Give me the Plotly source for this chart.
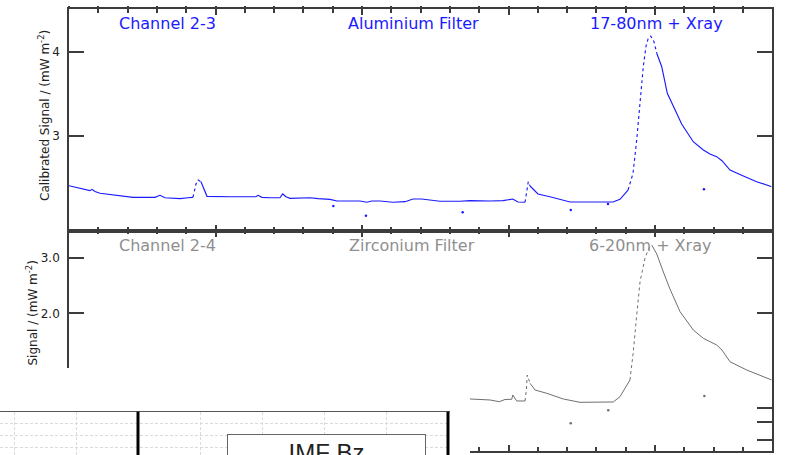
import plotly.graph_objects as go

W, H = 793, 455

# ---------------- Channel 2-3 (Aluminium filter, 17-80 nm + X-ray) ----------------
al_time = [0.000, 0.143, 0.157, 0.177, 0.212, 0.348, 0.437, 0.587, 0.621, 0.655,
           0.724, 0.758, 0.812, 0.846, 0.867, 0.881, 0.901, 0.922, 0.942, 1.099,
           1.276, 1.290, 1.317, 1.372, 1.440, 1.459, 1.481, 1.509, 1.577, 1.645,
           1.700, 1.782, 1.829, 1.918, 1.986, 2.032, 2.068, 2.123, 2.212, 2.294,
           2.348, 2.407, 2.532, 2.669, 2.737, 2.874, 2.962, 3.029, 3.065, 3.113,
           3.124, 3.135, 3.147, 3.181, 3.201, 3.283, 3.372, 3.420, 3.556, 3.713,
           3.761, 3.816, 3.850, 3.875, 3.898, 3.920, 3.939, 3.954, 3.971, 3.993,
           4.012, 4.046, 4.084, 4.148, 4.182, 4.261, 4.330, 4.375, 4.421, 4.457,
           4.512, 4.603, 4.694, 4.797]
al_signal = [2.408, 2.349, 2.365, 2.339, 2.318, 2.286, 2.270, 2.270, 2.294, 2.265,
             2.258, 2.254, 2.265, 2.270, 2.429, 2.476, 2.456, 2.357, 2.282, 2.277,
             2.277, 2.294, 2.270, 2.265, 2.265, 2.310, 2.277, 2.258, 2.262, 2.265,
             2.254, 2.246, 2.226, 2.226, 2.226, 2.211, 2.226, 2.226, 2.211, 2.218,
             2.250, 2.250, 2.223, 2.223, 2.230, 2.226, 2.230, 2.250, 2.214, 2.211,
             2.321, 2.456, 2.405, 2.337, 2.310, 2.277, 2.238, 2.214, 2.214, 2.214,
             2.246, 2.357, 2.556, 2.952, 3.429, 3.825, 4.071, 4.163, 4.190, 4.123,
             3.985, 3.825, 3.508, 3.270, 3.143, 2.932, 2.833, 2.786, 2.754, 2.706,
             2.595, 2.524, 2.456, 2.396]
# index ranges where samples are sparse (fast rises) -> drawn dotted
al_rises = [(13, 16), (49, 52), (61, 70)]
al_spike_time = [1.804, 2.027, 2.687, 3.425, 3.679, 4.334]
al_spike_signal = [2.167, 2.051, 2.092, 2.119, 2.190, 2.365]

# ---------------- Channel 2-4 (Zirconium filter, 6-20 nm + X-ray) ----------------
zr_time = [2.737, 2.874, 2.937, 2.976, 3.022, 3.029, 3.056, 3.113, 3.122, 3.128,
           3.147, 3.181, 3.261, 3.329, 3.374, 3.488, 3.625, 3.715, 3.761, 3.829,
           3.852, 3.875, 3.898, 3.932, 3.959, 3.978, 4.012, 4.057, 4.102, 4.171,
           4.261, 4.330, 4.421, 4.457, 4.512, 4.626, 4.797]
zr_signal = [0.459, 0.441, 0.410, 0.450, 0.453, 0.531, 0.423, 0.423, 0.621, 0.890,
             0.741, 0.621, 0.561, 0.500, 0.459, 0.399, 0.399, 0.405, 0.500, 0.800,
             1.309, 1.969, 2.568, 2.995, 3.174, 3.228, 3.067, 2.743, 2.437, 2.029,
             1.700, 1.550, 1.430, 1.340, 1.129, 0.980, 0.800]
zr_rises = [(7, 10), (19, 25)]
zr_spike_time = [3.425, 3.681, 4.337]
zr_spike_signal = [0.022, 0.256, 0.513]

# axis ticks
top_yticks = [3, 4]
low_yticks = [3.0, 2.0]
low_extra_ticks = [0.3, 0.04, -0.27]

# IMF Bz strip underneath
imf_markers = [3, 8]

BLUE = "#1a1aff"
GREY_LINE = "#6f6f6f"
GREY_TEXT = "#8f8f8f"
AXIS = "#3c3c3c"
FONT = "DejaVu Sans"


def split_segments(t, v, rises):
    """Return solid-line and dotted-line coordinate lists."""
    st, sv, dt, dv = [], [], [], []
    for j in range(len(t)):
        st.append(t[j])
        sv.append(v[j])
        if j < len(t) - 1 and any(a <= j < b for a, b in rises):
            st.append(None)
            sv.append(None)
    for a, b in rises:
        dt += t[a:b + 1] + [None]
        dv += v[a:b + 1] + [None]
    return st, sv, dt, dv


fig = go.Figure()

for (t, v, rises, st_t, st_v, col, xa, ya, w) in [
    (al_time, al_signal, al_rises, al_spike_time, al_spike_signal, BLUE, "x", "y", 1.15),
    (zr_time, zr_signal, zr_rises, zr_spike_time, zr_spike_signal, GREY_LINE, "x2", "y2", 1.0),
]:
    s_t, s_v, d_t, d_v = split_segments(t, v, rises)
    fig.add_trace(go.Scatter(x=s_t, y=s_v, mode="lines", xaxis=xa, yaxis=ya,
                             line=dict(color=col, width=w), connectgaps=False,
                             hoverinfo="skip", showlegend=False))
    fig.add_trace(go.Scatter(x=d_t, y=d_v, mode="lines", xaxis=xa, yaxis=ya,
                             line=dict(color=col, width=w, dash="dot"),
                             connectgaps=False, hoverinfo="skip", showlegend=False))
    fig.add_trace(go.Scatter(x=st_t, y=st_v, mode="markers", xaxis=xa, yaxis=ya,
                             marker=dict(color=col, size=2.5), hoverinfo="skip",
                             showlegend=False))

# blank overlay panel, IMF Bz strip, outer tick row on the top frame,
# and the extra right-hand ticks of the lower panel
fig.add_trace(go.Scatter(x=[None], y=[None], xaxis="x3", yaxis="y3", showlegend=False))
fig.add_trace(go.Scatter(x=[None], y=[None], xaxis="x4", yaxis="y4", showlegend=False))
fig.add_trace(go.Scatter(x=[None], y=[None], xaxis="x5", yaxis="y", showlegend=False))
fig.add_trace(go.Scatter(x=[None], y=[None], xaxis="x2", yaxis="y6", showlegend=False))

px = lambda p: p / W
py = lambda p: 1 - p / H

XR = [0, (771.5 - 69) / 146.5]
top_dom_x = [px(69), px(771.5)]
low_yrange = [3 - (450.7 - 257.7) / 55.6, 3 + (257.7 - 230.7) / 55.6]

common_x = dict(range=XR, showticklabels=False, showgrid=False, zeroline=False,
                ticks="inside", ticklen=6, tickwidth=1.5, tickcolor=AXIS, dtick=1, tick0=0,
                minor=dict(ticks="inside", ticklen=3.5, tickwidth=1.5, tickcolor=AXIS, dtick=0.2),
                showline=True, linecolor=AXIS, linewidth=1.6, mirror="ticks",
                domain=top_dom_x)
common_y = dict(showgrid=False, zeroline=False, ticks="inside", ticklen=15, tickwidth=1.5,
                tickcolor=AXIS, showline=True, linecolor=AXIS, linewidth=1.6, mirror="ticks",
                tickfont=dict(family=FONT, size=12, color="#222"), ticklabelstandoff=5)

fig.update_layout(
    width=W, height=H,
    margin=dict(l=0, r=0, t=0, b=0),
    paper_bgcolor="white", plot_bgcolor="white",
    showlegend=False,
    xaxis=dict(common_x, anchor="y"),
    yaxis=dict(common_y, anchor="x", domain=[py(230.7), py(9.3)],
               range=[3 - (230.7 - 136) / 84, 4 + (136 - 84 - 9.3) / 84],
               tickvals=top_yticks, ticktext=[str(v) for v in top_yticks]),
    xaxis5=dict(overlaying="x", anchor="y", side="top", range=XR, showline=False,
                showticklabels=False, showgrid=False, zeroline=False,
                ticks="outside", ticklen=2.5, tickwidth=1.5, tickcolor=AXIS, dtick=1, tick0=0,
                minor=dict(ticks="outside", ticklen=2.5, tickwidth=1.5, tickcolor=AXIS, dtick=0.2)),
    xaxis2=dict(common_x, anchor="y2"),
    yaxis2=dict(common_y, anchor="x2", domain=[py(450.7), py(230.7)],
                range=low_yrange, tickvals=low_yticks,
                ticktext=["%.1f" % v for v in low_yticks]),
    yaxis6=dict(overlaying="y2", anchor="x2", side="right", range=low_yrange,
                tickvals=low_extra_ticks, showticklabels=False, showgrid=False,
                zeroline=False, showline=False, ticks="inside", ticklen=15,
                tickwidth=1.5, tickcolor=AXIS),
    xaxis3=dict(visible=False, domain=[0, px(470)], anchor="y3", range=[0, 1]),
    yaxis3=dict(visible=False, domain=[0, py(368)], anchor="x3", range=[0, 1]),
    xaxis4=dict(domain=[0, px(450)], anchor="y4", range=[1 - 14 / 62, 1 + 436 / 62],
                dtick=1, tick0=0, showticklabels=False, ticks="", zeroline=False,
                showgrid=True, gridcolor="#dadada", griddash="3px,2px", gridwidth=1,
                showline=True, side="top", linecolor="#555", linewidth=1.3),
    yaxis4=dict(domain=[0, py(411.7)], anchor="x4", range=[-2.96, 14.6],
                dtick=5, tick0=0, showticklabels=False, ticks="", zeroline=False,
                showgrid=True, gridcolor="#dadada", griddash="3px,2px", gridwidth=1,
                showline=False),
)

# event markers on the IMF Bz strip
for xm in imf_markers:
    fig.add_shape(type="line", xref="x4", yref="y4 domain", x0=xm, x1=xm, y0=0, y1=1,
                  line=dict(color="black", width=3))

# panel labels
labels = [
    ("Channel 2-3", 167, 23, BLUE), ("Aluminium Filter", 413, 23, BLUE),
    ("17-80nm + Xray", 656, 23, BLUE),
    ("Channel 2-4", 167, 245, GREY_TEXT), ("Zirconium Filter", 412, 245, GREY_TEXT),
    ("6-20nm + Xray", 650, 245, GREY_TEXT),
]
for text, x, y, c in labels:
    fig.add_annotation(text=text, x=px(x), y=py(y), xref="paper", yref="paper",
                       showarrow=False, xanchor="center", yanchor="middle",
                       font=dict(family=FONT, size=16, color=c))

# y-axis titles
fig.add_annotation(text="Calibrated Signal / (mW m<sup>-2</sup>)", x=px(44), y=py(116),
                   xref="paper", yref="paper", showarrow=False, textangle=-90,
                   xanchor="center", yanchor="middle",
                   font=dict(family=FONT, size=12, color="#222"))
fig.add_annotation(text="Signal / (mW m<sup>-2</sup>)", x=px(31), y=py(368),
                   xref="paper", yref="paper", showarrow=False, textangle=-90,
                   xanchor="center", yanchor="bottom",
                   font=dict(family=FONT, size=12, color="#222"))

# IMF Bz label box
fig.add_annotation(text="IMF Bz", x=px(326.5), y=py(434.3), xref="paper", yref="paper",
                   showarrow=False, xanchor="center", yanchor="top",
                   width=189, height=60, valign="top", align="center",
                   bgcolor="white", bordercolor="#666", borderwidth=1, borderpad=4,
                   font=dict(family="Liberation Sans", size=24, color="#222"))

fig.write_html("out.html")
